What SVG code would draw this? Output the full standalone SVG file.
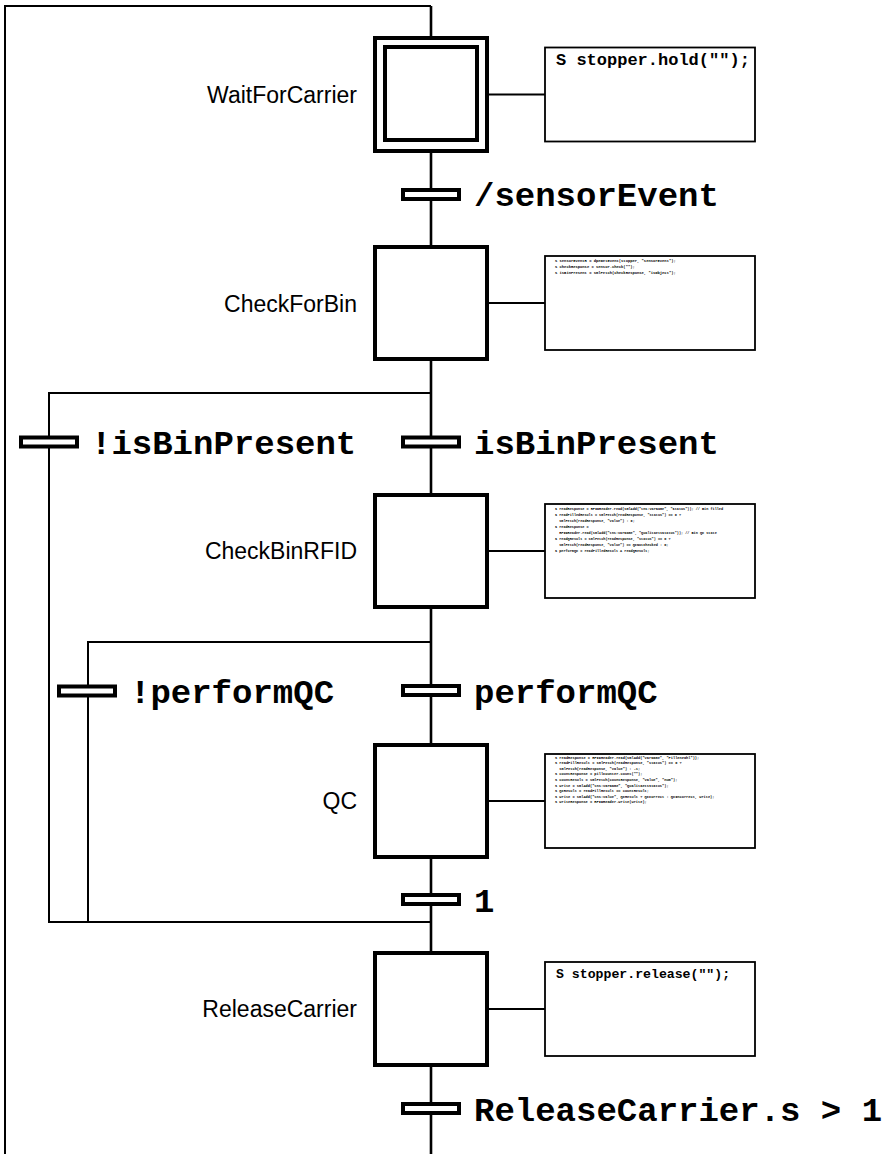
<svg xmlns="http://www.w3.org/2000/svg" width="892" height="1154" viewBox="0 0 892 1154">
<style>
.bg{fill:#fff}
.ln{stroke:#000;stroke-width:2;fill:none}
.mn{stroke:#000;stroke-width:2.6;fill:none}
.step{fill:#fff;stroke:#000;stroke-width:4}
.act{fill:#fff;stroke:#000;stroke-width:1.8}
.bar{fill:#fff;stroke:#000;stroke-width:4}
.lbl{font-family:"Liberation Sans",Arial,sans-serif;font-size:23px;fill:#000;text-anchor:end}
.cond{font-family:"Liberation Mono","Courier New",monospace;font-weight:bold;font-size:34px;fill:#000}
.code{font-family:"Liberation Mono","Courier New",monospace;font-weight:bold;fill:#000;white-space:pre}
</style>
<rect class="bg" x="0" y="0" width="892" height="1154"/>
<g id="connectors">
  <polyline class="ln" points="5,1154 5,6 431,6"/>
  <line class="mn" x1="431" y1="6" x2="431" y2="1154"/>
  <polyline class="ln" points="431,393 49,393 49,922 431,922"/>
  <polyline class="ln" points="431,642 88,642 88,922"/>
  <line class="ln" x1="489" y1="94.5" x2="545" y2="94.5"/>
  <line class="ln" x1="489" y1="303" x2="545" y2="303"/>
  <line class="ln" x1="489" y1="551" x2="545" y2="551"/>
  <line class="ln" x1="489" y1="801" x2="545" y2="801"/>
  <line class="ln" x1="489" y1="1009" x2="545" y2="1009"/>
</g>
<g id="WaitForCarrier">
  <rect class="step" x="375" y="38" width="112" height="113"/>
  <rect class="step" x="385" y="47" width="92" height="93"/>
  <text class="lbl" x="357" y="102.5">WaitForCarrier</text>
  <rect class="act" x="545" y="47.5" width="210" height="94"/>
  <text class="code" x="556" y="65" font-size="17">S stopper.hold("");</text>
</g>
<g id="t_sensorEvent">
  <rect class="bar" x="403" y="190" width="56" height="9"/>
  <text class="cond" x="474" y="206">/sensorEvent</text>
</g>
<g id="CheckForBin">
  <rect class="step" x="375" y="247" width="112" height="112"/>
  <text class="lbl" x="357" y="311.5">CheckForBin</text>
  <rect class="act" x="545" y="256" width="210" height="94"/>
  <text class="code" x="555" y="261.5" font-size="3.8">S sensorEventR = dpeGetEvent(stopper, "sensorEvent");</text>
  <text class="code" x="555" y="267.5" font-size="3.8">S checkResponse = sensor.check("");</text>
  <text class="code" x="555" y="273.5" font-size="3.8">S isBinPresent = smlFetch(checkResponse, "isObject");</text>
</g>
<g id="t_notIsBinPresent">
  <rect class="bar" x="21" y="437.5" width="56" height="9"/>
  <text class="cond" x="91" y="454">!isBinPresent</text>
</g>
<g id="t_isBinPresent">
  <rect class="bar" x="403" y="437.5" width="56" height="9"/>
  <text class="cond" x="474" y="454">isBinPresent</text>
</g>
<g id="CheckBinRFID">
  <rect class="step" x="375" y="495" width="112" height="112"/>
  <text class="lbl" x="357" y="559">CheckBinRFID</text>
  <rect class="act" x="545" y="504" width="210" height="94"/>
  <text class="code" x="555" y="509.5" font-size="3.5">S readResponse = RFIDReader.read(smlAdd("tns:varName", "Status")); // Bin filled</text>
  <text class="code" x="555" y="515.5" font-size="3.5">S readFilledResult = smlFetch(readResponse, "status") == 0 ?</text>
  <text class="code" x="555" y="521.5" font-size="3.5">  smlFetch(readResponse, "value") : 0;</text>
  <text class="code" x="555" y="527.5" font-size="3.5">S readResponse =</text>
  <text class="code" x="555" y="533.5" font-size="3.5">  RFIDReader.read(smlAdd("tns:varName", "QualitaetsStatus")); // Bin QC state</text>
  <text class="code" x="555" y="539.5" font-size="3.5">S readQResult = smlFetch(readResponse, "status") == 0 ?</text>
  <text class="code" x="555" y="545.5" font-size="3.5">  smlFetch(readResponse, "value") == QCNotChecked : 0;</text>
  <text class="code" x="555" y="551.5" font-size="3.5">S performQC = readFilledResult &amp; readQResult;</text>
</g>
<g id="t_notPerformQC">
  <rect class="bar" x="59" y="686.5" width="56" height="9"/>
  <text class="cond" x="130" y="702.5">!performQC</text>
</g>
<g id="t_performQC">
  <rect class="bar" x="403" y="686" width="56" height="9"/>
  <text class="cond" x="474" y="702.5">performQC</text>
</g>
<g id="QC">
  <rect class="step" x="375" y="745" width="112" height="112"/>
  <text class="lbl" x="357" y="809">QC</text>
  <rect class="act" x="545" y="754" width="210" height="94"/>
  <text class="code" x="555" y="758.5" font-size="3.65">S readResponse = RFIDReader.read(smlAdd("varName", "Pillenzahl"));</text>
  <text class="code" x="555" y="764.1" font-size="3.65">S readFillResult = smlFetch(readResponse, "status") == 0 ?</text>
  <text class="code" x="555" y="769.7" font-size="3.65">  smlFetch(readResponse, "value") : -1;</text>
  <text class="code" x="555" y="775.3" font-size="3.65">S countResponse = pillCounter.count("");</text>
  <text class="code" x="555" y="780.9" font-size="3.65">S countResult = smlFetch(countResponse, "value", "num");</text>
  <text class="code" x="555" y="786.5" font-size="3.65">S write = smlAdd("tns:varName", "QualitaetsStatus");</text>
  <text class="code" x="555" y="792.1" font-size="3.65">S QCResult = readFillResult == countResult;</text>
  <text class="code" x="555" y="797.7" font-size="3.65">S write = smlAdd("tns:value", QCResult ? QCCorrect : QCIncorrect, write);</text>
  <text class="code" x="555" y="803.3" font-size="3.65">S writeResponse = RFIDReader.write(write);</text>
</g>
<g id="t_one">
  <rect class="bar" x="403" y="895" width="56" height="9"/>
  <text class="cond" x="474" y="911.5">1</text>
</g>
<g id="ReleaseCarrier">
  <rect class="step" x="375" y="953" width="112" height="112"/>
  <text class="lbl" x="357" y="1017">ReleaseCarrier</text>
  <rect class="act" x="545" y="962" width="210" height="94"/>
  <text class="code" x="556" y="978" font-size="13.2">S stopper.release("");</text>
</g>
<g id="t_release">
  <rect class="bar" x="403" y="1104" width="56" height="9"/>
  <text class="cond" x="474" y="1121">ReleaseCarrier.s &gt; 1</text>
</g>
</svg>
